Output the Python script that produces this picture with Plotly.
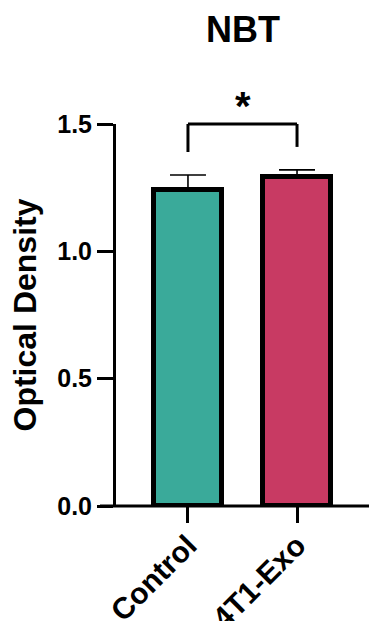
import plotly.graph_objects as go

categories = ["Control", "4T1-Exo"]
means = [1.24, 1.29]
errors_up = [0.06, 0.03]
bar_colors = ["#3AAA9A", "#C83A63"]
y_ticks = [0.0, 0.5, 1.0, 1.5]
y_tick_labels = ["0.0", "0.5", "1.0", "1.5"]
title_text = "NBT"
y_title = "Optical Density"
sig_label = "*"
sig_level = 1.50
sig_leg_left = 1.39
sig_leg_right = 1.41

Y_MAX = 1.5
FONT = "Arial, Liberation Sans, Helvetica, sans-serif"

W, H = 369, 621
ML, MR, MT, MB = 116, 0, 124, 115

fig = go.Figure()
fig.add_trace(go.Bar(
    x=categories, y=means,
    width=0.62,
    marker=dict(color=bar_colors, line=dict(color="black", width=5)),
    error_y=dict(type="data", array=errors_up, arrayminus=[0] * len(errors_up),
                 symmetric=False, color="black", thickness=1.6, width=18),
    showlegend=False,
))

fig.update_layout(
    width=W, height=H,
    margin=dict(l=ML, r=MR, t=MT, b=MB, pad=0, autoexpand=False),
    plot_bgcolor="white", paper_bgcolor="white",
    font=dict(family=FONT, color="black"),
    bargap=0,
    xaxis=dict(
        range=[-0.66, 1.66], automargin=False,
        showline=False, showgrid=False, zeroline=False,
        ticks="outside", ticklen=16, tickwidth=3, tickcolor="black",
        tickangle=-45, ticklabelstandoff=-7,
        tickfont=dict(size=30, family=FONT, weight="bold", color="black"),
    ),
    yaxis=dict(
        range=[0, Y_MAX], automargin=False,
        showline=True, linewidth=3, linecolor="black",
        showgrid=False, zeroline=False,
        ticks="outside", ticklen=16, tickwidth=3, tickcolor="black",
        tickvals=y_ticks, ticktext=y_tick_labels,
        tickfont=dict(size=25, family=FONT, weight="bold", color="black"),
        title=dict(text=y_title, standoff=12,
                   font=dict(size=32, family=FONT, weight="bold", color="black")),
    ),
)

# x axis baseline (starts at left end of y ticks)
x_line_start = -16 / (W - ML - MR)
fig.add_shape(type="line", xref="paper", yref="paper",
              x0=x_line_start, x1=1, y0=0, y1=0,
              line=dict(color="black", width=3))

# significance bracket
fig.add_shape(type="line", xref="x", yref="paper",
              x0=0, x1=1, y0=sig_level / Y_MAX, y1=sig_level / Y_MAX,
              line=dict(color="black", width=3))
fig.add_shape(type="line", xref="x", yref="paper",
              x0=0, x1=0, y0=sig_leg_left / Y_MAX, y1=sig_level / Y_MAX,
              line=dict(color="black", width=3))
fig.add_shape(type="line", xref="x", yref="paper",
              x0=1, x1=1, y0=sig_leg_right / Y_MAX, y1=sig_level / Y_MAX,
              line=dict(color="black", width=3))
fig.add_annotation(x=0.5, xref="x", y=sig_level / Y_MAX, yref="paper",
                   text=sig_label, showarrow=False, yanchor="bottom", yshift=-6,
                   font=dict(size=40, family=FONT, weight="bold", color="black"))

fig.add_annotation(x=0.5, xref="paper", y=1, yref="paper", yshift=72,
                   text=title_text, showarrow=False, yanchor="bottom",
                   font=dict(size=36, family=FONT, weight="bold", color="black"))

fig.write_html("out.html", post_script="document.body.style.margin='0';",
               config={"displayModeBar": False})
